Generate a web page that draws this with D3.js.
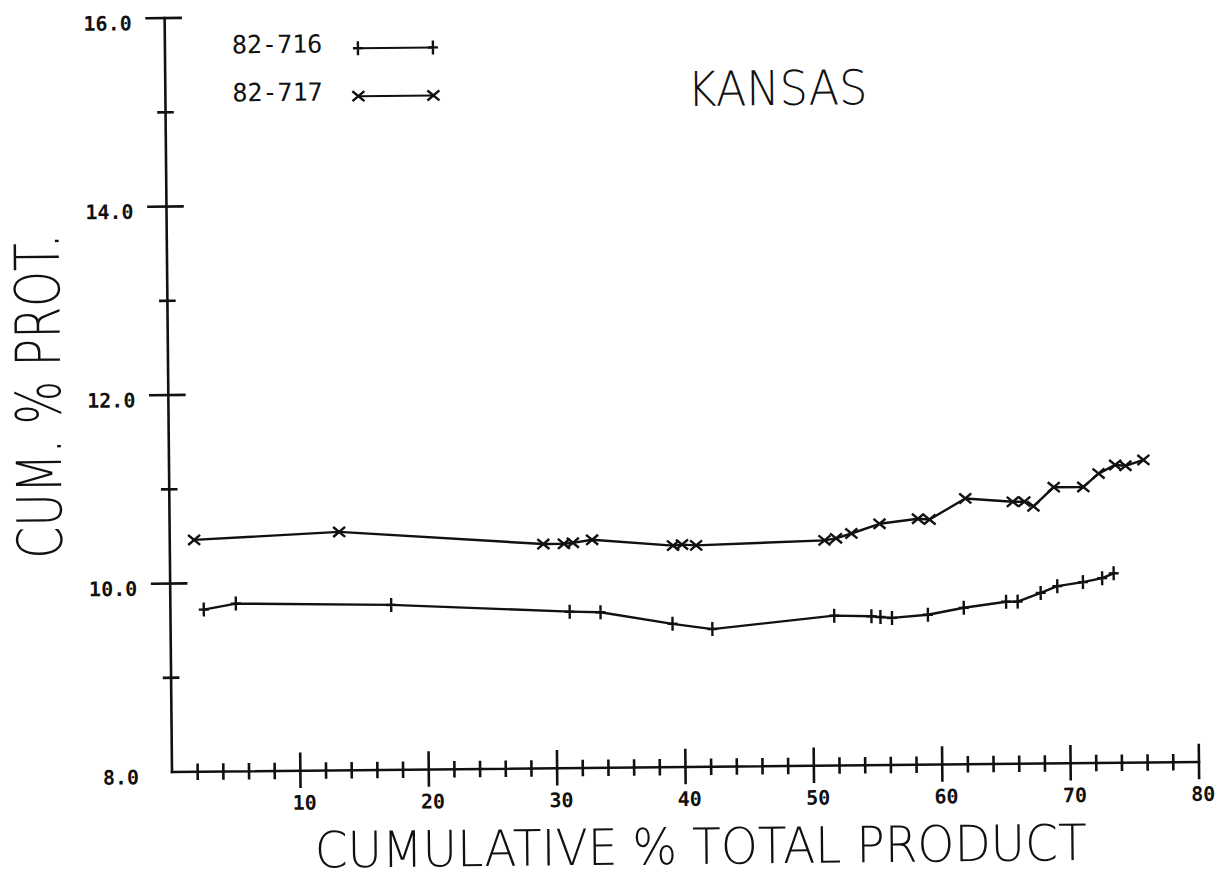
<!DOCTYPE html>
<html>
<head>
<meta charset="utf-8">
<script src="https://cdn.jsdelivr.net/npm/d3@7"></script>
<style>
  body { margin: 0; background: #fff; }
  svg { display: block; }
</style>
</head>
<body>
<div id="container"></div>
<script>
// Chart data
var series716X = [2.6, 5.1, 17.2, 31.1, 33.5, 39.1, 42.2, 51.7, 54.6, 55.3, 56.2, 59.0, 61.8, 65.1, 66.0, 67.8, 69.1, 71.1, 72.6, 73.5];
var series716Y = [9.72, 9.78, 9.75, 9.66, 9.65, 9.52, 9.46, 9.59, 9.58, 9.57, 9.56, 9.59, 9.66, 9.72, 9.72, 9.81, 9.88, 9.92, 9.96, 10.01];

var series717X = [1.9, 13.2, 29.1, 30.7, 31.4, 32.9, 39.2, 39.9, 41.0, 51.0, 51.9, 53.1, 55.3, 58.3, 59.2, 62.0, 65.7, 66.6, 67.3, 68.9, 71.2, 72.4, 73.7, 74.5, 75.9];
var series717Y = [10.46, 10.53, 10.38, 10.38, 10.39, 10.42, 10.35, 10.36, 10.35, 10.39, 10.41, 10.46, 10.56, 10.61, 10.60, 10.82, 10.78, 10.78, 10.73, 10.93, 10.93, 11.07, 11.16, 11.15, 11.21];

var seriesNames = ["82-716", "82-717"];

var yMajorTicks = [8, 10, 12, 14, 16];
var yMinorTicks = [9, 11, 13, 15];
var yTickLabels = ["8.0", "10.0", "12.0", "14.0", "16.0"];

var xMajorTicks = [10, 20, 30, 40, 50, 60, 70, 80];
var xMinorTicks = [2, 4, 6, 8, 12, 14, 16, 18, 22, 24, 26, 28, 32, 34, 36, 38, 42, 44, 46, 48, 52, 54, 56, 58, 62, 64, 66, 68, 72, 74, 76, 78];
var xTickLabels = ["10", "20", "30", "40", "50", "60", "70", "80"];

var chartTitle = "KANSAS";
var xTitle = "CUMULATIVE % TOTAL PRODUCT";
var yTitle = "CUM. % PROT.";

// SVG
var svg_width = 1220
var svg_height = 886

var svg = d3.select("#container")
    .append("svg")
    .attr("width", svg_width)
    .attr("height", svg_height)

svg.append("rect")
    .attr("width", svg_width)
    .attr("height", svg_height)
    .attr("fill", "#fff")

// the scan is tilted a little, so the whole plot is turned round the origin
var chart = svg.append("g")
    .attr("transform", "rotate(-0.56,172,772)")

var xScale = d3.scaleLinear().domain([0, 80]).range([172, 1199]);
var yScale = d3.scaleLinear().domain([8, 16]).range([772, 18]);

var ink = "#111";
var labelFont = "'DejaVu Sans Mono', 'Liberation Mono', monospace";
var titleFont = "'DejaVu Sans', 'Liberation Sans', sans-serif";

// --- AXES ---
var axes = chart.append("g")
    .attr("stroke", ink)
    .attr("stroke-width", 2.6)
    .attr("fill", "none")
    .attr("stroke-linecap", "square");

axes.append("line")
    .attr("x1", xScale(0)).attr("x2", xScale(0))
    .attr("y1", yScale(16)).attr("y2", yScale(8));

axes.append("line")
    .attr("x1", xScale(0)).attr("x2", xScale(80))
    .attr("y1", yScale(8)).attr("y2", yScale(8));

axes.selectAll(".ymajor")
    .data(yMajorTicks.filter(d => d > 8))
    .enter()
    .append("line")
    .attr("x1", xScale(0) - 18)
    .attr("x2", xScale(0) + 16)
    .attr("y1", d => yScale(d))
    .attr("y2", d => yScale(d));

axes.selectAll(".yminor")
    .data(yMinorTicks)
    .enter()
    .append("line")
    .attr("x1", xScale(0) - 7)
    .attr("x2", xScale(0) + 7)
    .attr("y1", d => yScale(d))
    .attr("y2", d => yScale(d));

axes.selectAll(".xmajor")
    .data(xMajorTicks)
    .enter()
    .append("line")
    .attr("x1", d => xScale(d))
    .attr("x2", d => xScale(d))
    .attr("y1", yScale(8) - 17)
    .attr("y2", yScale(8) + 16);

axes.selectAll(".xminor")
    .data(xMinorTicks)
    .enter()
    .append("line")
    .attr("x1", d => xScale(d))
    .attr("x2", d => xScale(d))
    .attr("y1", yScale(8) - 7)
    .attr("y2", yScale(8) + 7);

// tick labels
chart.append("g")
    .selectAll("text")
    .data(yMajorTicks)
    .enter()
    .append("text")
    .attr("x", 139)
    .attr("y", d => yScale(d) + 12)
    .attr("text-anchor", "end")
    .attr("font-family", labelFont)
    .attr("font-weight", "bold")
    .attr("font-size", 20)
    .attr("fill", ink)
    .text((d, i) => yTickLabels[i]);

chart.append("g")
    .selectAll("text")
    .data(xMajorTicks)
    .enter()
    .append("text")
    .attr("x", d => xScale(d) + 4)
    .attr("y", yScale(8) + 39)
    .attr("text-anchor", "middle")
    .attr("font-family", labelFont)
    .attr("font-weight", "bold")
    .attr("font-size", 20)
    .attr("fill", ink)
    .text((d, i) => xTickLabels[i]);

// --- TITLES ---
chart.append("text")
    .attr("x", 694)
    .attr("y", 111)
    .attr("font-family", titleFont)
    .attr("font-weight", 200)
    .attr("font-size", 48)
    .attr("textLength", 180)
    .attr("lengthAdjust", "spacingAndGlyphs")
    .attr("fill", ink)
    .text(chartTitle);

chart.append("text")
    .attr("x", 314)
    .attr("y", 869)
    .attr("font-family", titleFont)
    .attr("font-weight", 200)
    .attr("font-size", 50)
    .attr("textLength", 772)
    .attr("lengthAdjust", "spacingAndGlyphs")
    .attr("fill", ink)
    .text(xTitle);

chart.append("text")
    .attr("transform", "translate(64,395) rotate(-90)")
    .attr("text-anchor", "middle")
    .attr("font-family", titleFont)
    .attr("font-weight", 200)
    .attr("font-size", 62)
    .attr("textLength", 325)
    .attr("lengthAdjust", "spacingAndGlyphs")
    .attr("fill", ink)
    .text(yTitle);

// --- SERIES ---
var line = d3.line()
    .x(d => xScale(d[0]))
    .y(d => yScale(d[1]));

var plusPath = function(x, y){
    return `M${x - 5},${y}H${x + 5}M${x},${y - 7}V${y + 7}`;
};
var crossPath = function(x, y){
    return `M${x - 6},${y - 5}L${x + 6},${y + 5}M${x - 6},${y + 5}L${x + 6},${y - 5}`;
};

var data716 = series716X.map((d, i) => [d, series716Y[i]]);
var data717 = series717X.map((d, i) => [d, series717Y[i]]);

var allSeries = [
    {name: seriesNames[0], points: data716, marker: plusPath},
    {name: seriesNames[1], points: data717, marker: crossPath}
];

allSeries.forEach(function(s){
    chart.append("path")
        .datum(s.points)
        .attr("d", line)
        .attr("fill", "none")
        .attr("stroke", ink)
        .attr("stroke-width", 2.4)
        .attr("stroke-linejoin", "round");

    chart.append("g")
        .selectAll("path")
        .data(s.points)
        .enter()
        .append("path")
        .attr("d", d => s.marker(xScale(d[0]), yScale(d[1])))
        .attr("fill", "none")
        .attr("stroke", ink)
        .attr("stroke-width", 2.4);
});

// --- LEGEND ---
var legend = chart.append("g");
allSeries.forEach(function(s, i){
    var ly = 50 + i * 48;
    legend.append("text")
        .attr("x", 239)
        .attr("y", ly + 4)
        .attr("font-family", labelFont)
        .attr("font-size", 25)
        .attr("fill", ink)
        .text(s.name);
    legend.append("line")
        .attr("x1", 365).attr("x2", 440)
        .attr("y1", ly).attr("y2", ly)
        .attr("stroke", ink)
        .attr("stroke-width", 2);
    legend.append("path")
        .attr("d", s.marker(365, ly) + s.marker(440, ly))
        .attr("fill", "none")
        .attr("stroke", ink)
        .attr("stroke-width", 2.4);
});
</script>
</body>
</html>
